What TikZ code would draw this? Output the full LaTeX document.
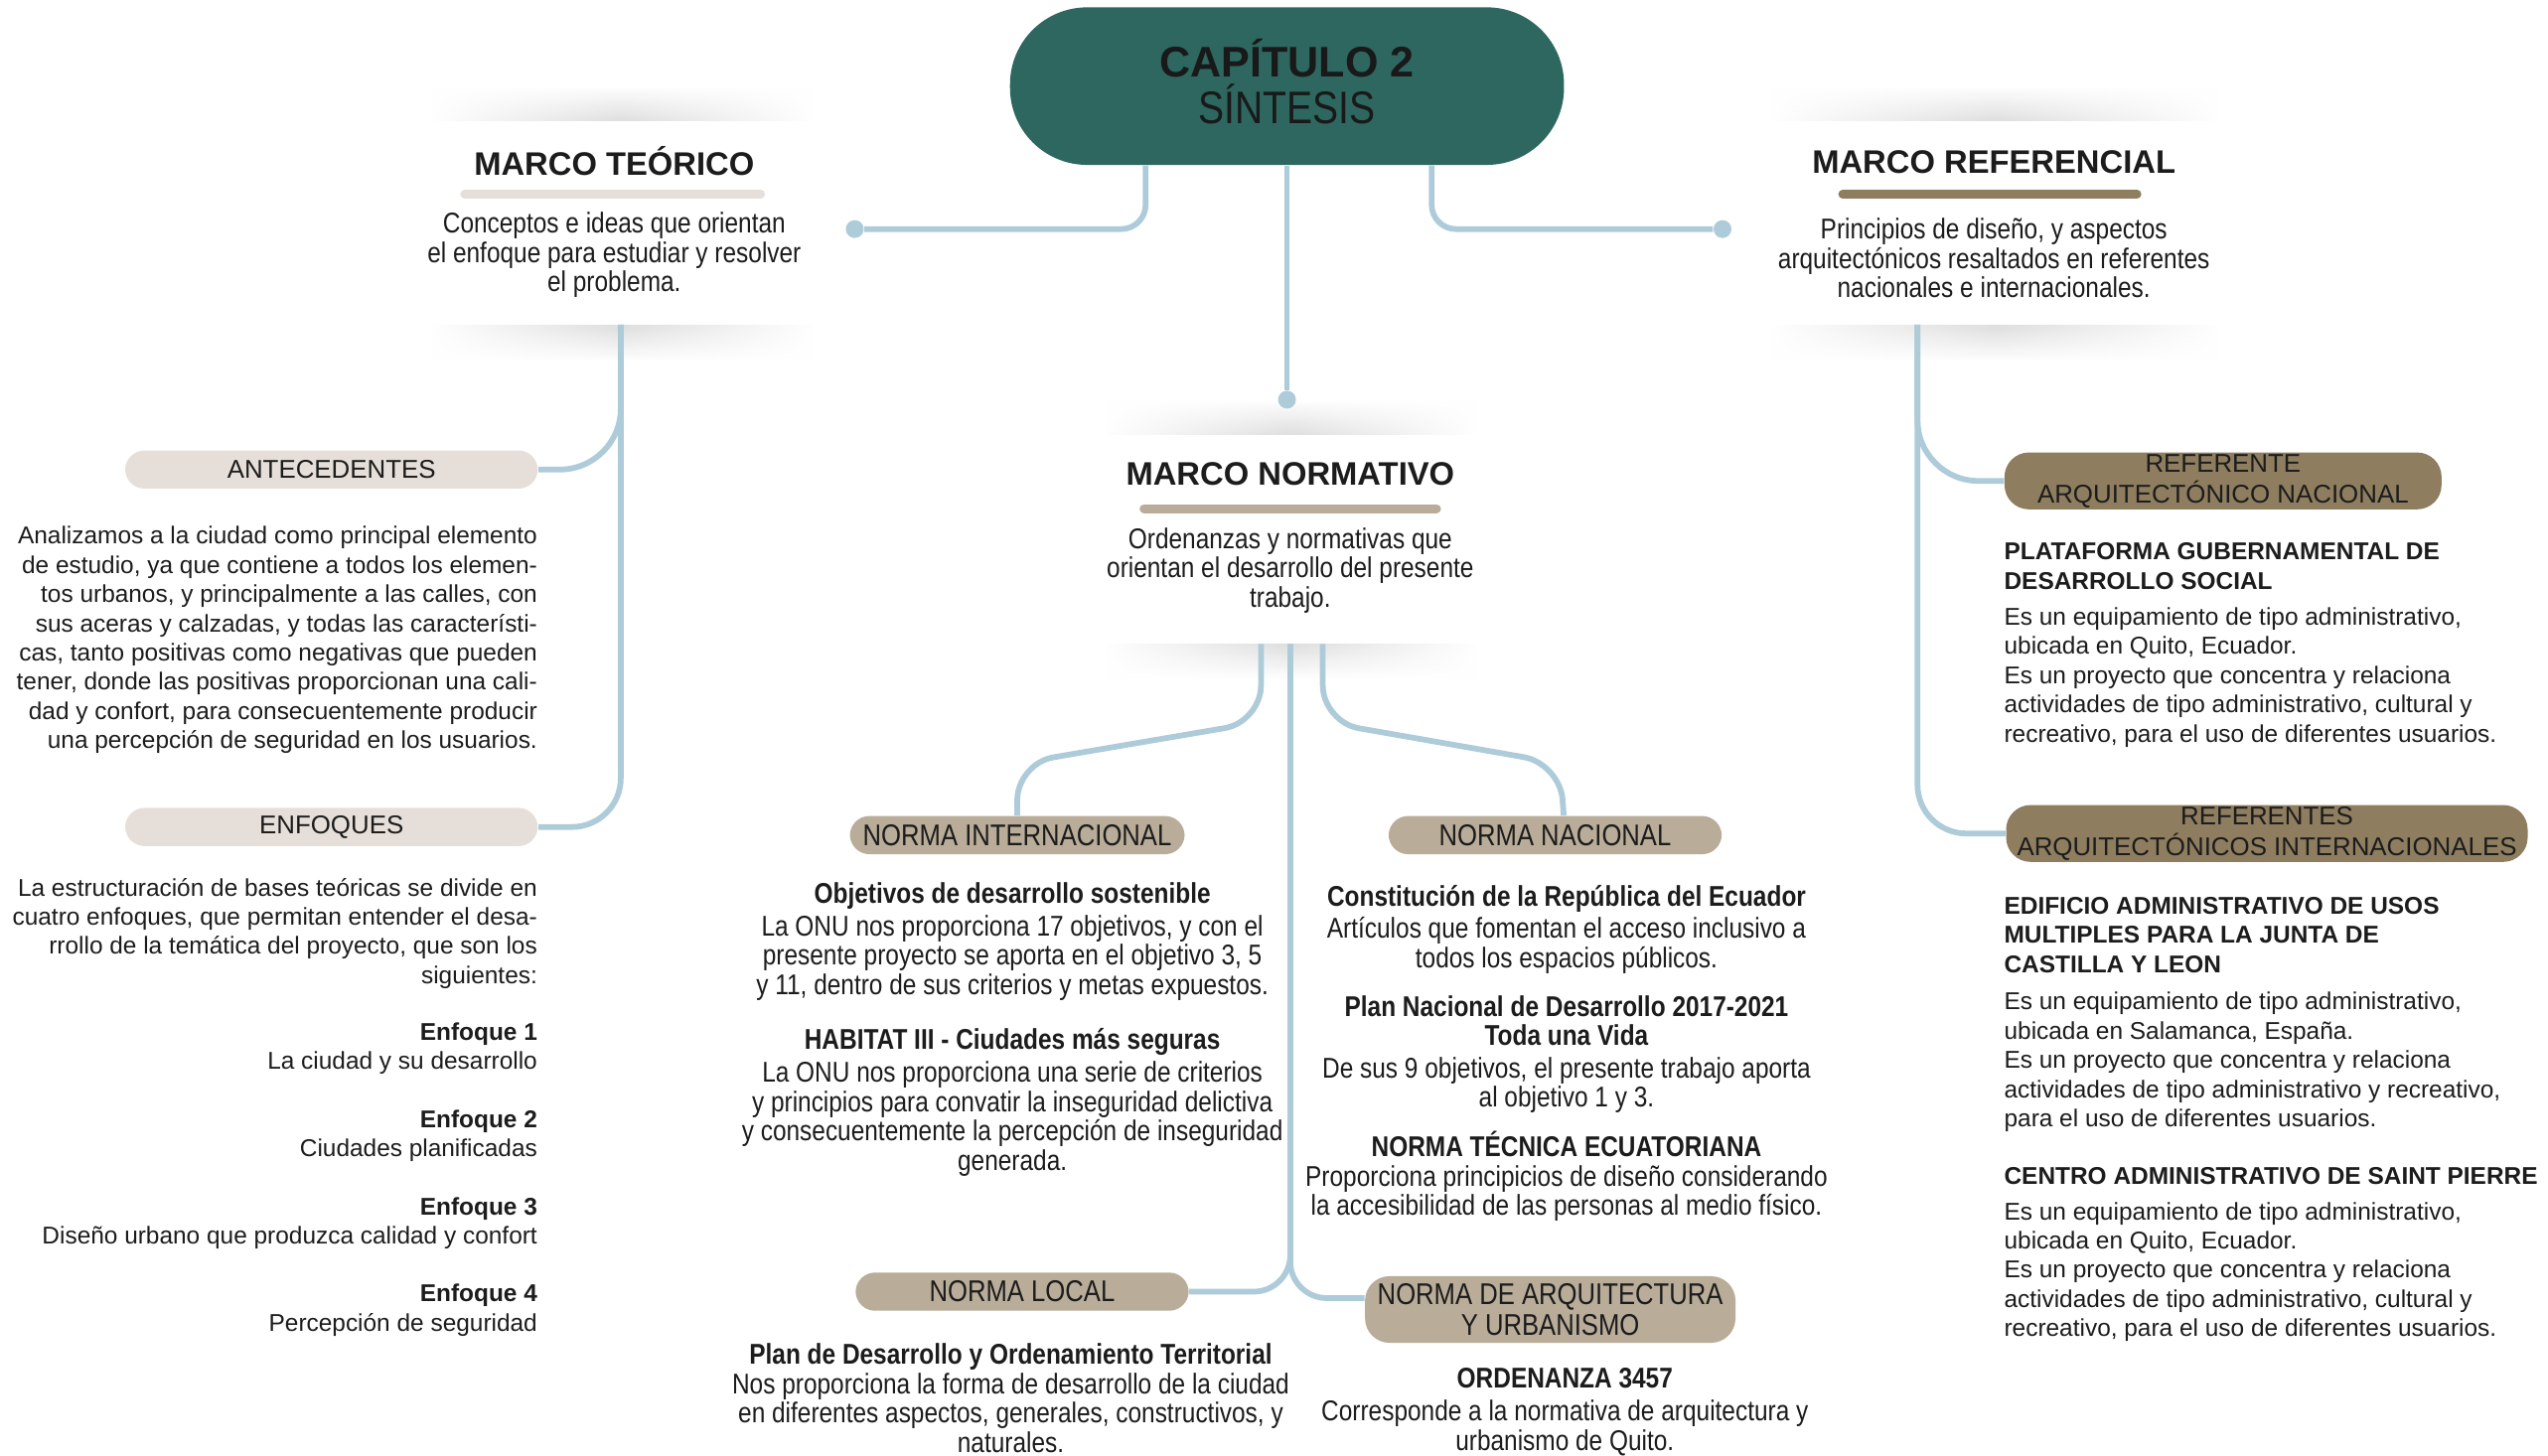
\documentclass[tikz,border=0pt]{standalone}
\usepackage{fontspec}
\setmainfont{Liberation Sans}
\newfontfamily\narrowfont[FakeStretch=0.85]{Liberation Sans}
\usepackage{xcolor}
\usetikzlibrary{
    shapes,
    positioning,
    fadings,
    calc
}
\definecolor{hubteal}{HTML}{2D675F}
\definecolor{linkblue}{HTML}{AECBDA}
\definecolor{sandlight}{HTML}{E6DFD9}
\definecolor{sandmid}{HTML}{B9AD99}
\definecolor{sanddark}{HTML}{8E7D5F}
\definecolor{inkgray}{HTML}{1C1C1C}
\tikzfading[name=sidefade, left color=transparent!100, right color=transparent!100, middle color=transparent!0]
\tikzset{%
    % Specifications for style of nodes:
    plain/.style = {inner sep=0pt, text=inkgray},
    hub/.style = {
        rectangle, rounded corners=0.95cm, fill=hubteal,
        minimum width=6.82cm, minimum height=1.94cm,
        text=black!90, align=center
    },
    card/.style = {rectangle, fill=white, inner sep=0pt},
    glow-up/.style = {top color=white, bottom color=black!13, path fading=sidefade},
    glow-down/.style = {top color=black!13, bottom color=white, path fading=sidefade},
    head-text/.style = {plain, font=\bfseries\fontsize{11.4}{13}\selectfont},
    desc-text/.style = {plain, align=center, font=\narrowfont\fontsize{10}{10.24}\selectfont},
    body-text/.style = {plain, font=\fontsize{8.5}{10.24}\selectfont},
    tag/.style = {
        plain, rectangle, rounded corners=0.24cm,
        minimum height=0.47cm, align=center,
        font=\fontsize{9}{10.8}\selectfont
    },
    tag-light/.style = {tag, fill=sandlight},
    tag-mid/.style = {tag, fill=sandmid, font=\narrowfont\fontsize{10.5}{10.8}\selectfont},
    tag-dark/.style = {tag, fill=sanddark, minimum height=0.7cm, rounded corners=0.3cm},
    link-dot/.style = {circle, fill=linkblue, inner sep=0pt, minimum size=0.22cm},
    link-line/.style = {draw=linkblue, line width=2pt, rounded corners=0.45cm},
    rule-bar/.style = {line width=0.11cm, line cap=round}
}

\begin{document}
\begin{tikzpicture}[x=0.02cm, y=-0.02cm]
    \useasboundingbox (0,0) rectangle (1568,896);
    \fill[white] (0,0) rectangle (1568,896);
    % soft shadows above and below the three cards
    \foreach \xa/\xb/\ya/\yb in {265/500/75/200, 1090/1365/75/200, 680/908/268/396} {
        \shade[glow-up] (\xa,\ya-22) rectangle (\xb,\ya);
        \shade[glow-down] (\xa,\yb) rectangle (\xb,\yb+22);
    }
    \node[card, minimum width=4.7cm, minimum height=2.5cm] (teo) at (382,137) {};
    \node[card, minimum width=5.5cm, minimum height=2.5cm] (refc) at (1227,137) {};
    \node[card, minimum width=4.56cm, minimum height=2.56cm] (nor) at (794,332) {};

    \node[hub, text depth=3.4pt, font=\bfseries\fontsize{15}{16.5}\selectfont] (hub) at (792,53)
        {CAPÍTULO 2\\{\mdseries\narrowfont\fontsize{16}{16.5}\selectfont SÍNTESIS}};

    \node[tag-light, minimum width=5.08cm] (ant) at (204,289) {ANTECEDENTES};
    \node[tag-light, minimum width=5.08cm] (enf) at (204,509) {ENFOQUES};
    \node[tag-dark, minimum width=5.38cm] (refn) at (1368,296) {REFERENTE\\ARQUITECTÓNICO NACIONAL};
    \node[tag-dark, minimum width=6.42cm] (refi) at (1395,513) {REFERENTES\\ARQUITECTÓNICOS INTERNACIONALES};
    \node[tag-mid, minimum width=4.12cm] (intl) at (626,514) {NORMA INTERNACIONAL};
    \node[tag-mid, minimum width=4.1cm] (nac) at (957,514) {NORMA NACIONAL};
    \node[tag-mid, minimum width=4.1cm] (loc) at (629,795) {NORMA LOCAL};
    \node[tag-mid, minimum width=4.56cm, minimum height=0.82cm, rounded corners=0.3cm] (arq) at (954,806)
        {NORMA DE ARQUITECTURA\\Y URBANISMO};

    \node[link-dot] (dotL) at (526,141) {};
    \node[link-dot] (dotR) at (1060,141) {};
    \node[link-dot] (dotN) at (792,246) {};

    \draw[link-line, rounded corners=0.3cm] ($(hub.south)+(-87,0)$) |- (dotL);
    \draw[link-line] (hub.south) -- (dotN);
    \draw[link-line, rounded corners=0.3cm] ($(hub.south)+(89,0)$) |- (dotR);
    \draw[link-line, rounded corners=0.75cm] (teo.south) |- (ant.east);
    \draw[link-line, rounded corners=0.6cm] (teo.south) |- (enf.east);
    \draw[link-line, rounded corners=0.75cm] ($(refc.south)+(-47,0)$) |- (refn.west);
    \draw[link-line, rounded corners=0.6cm] ($(refc.south)+(-47,0)$) |- (refi.west);
    \draw[link-line] ($(nor.south)+(-18,0)$) -- ++(0,48) -- ($(intl.north)+(0,-32)$) -- (intl.north);
    \draw[link-line] ($(nor.south)+(20,0)$) -- ++(0,48) -- ($(nac.north)+(3,-32)$) -- ([xshift=3]nac.north);
    \draw[link-line] (nor.south) |- (loc.east);
    \draw[link-line] (nor.south) |- ([yshift=4pt]arq.west);

    \node[head-text] (teo-t) at (378,99) {MARCO TEÓRICO};
    \draw[rule-bar, sandlight] (286,119.5) -- (468,119.5);
    \node[desc-text] (teo-d) at (378,157)
        {Conceptos e ideas que orientan\\el enfoque para estudiar y resolver\\el problema.};
    \node[head-text] (ref-t) at (1227,100) {MARCO REFERENCIAL};
    \draw[rule-bar, sanddark] (1134,119.5) -- (1315,119.5);
    \node[desc-text] (ref-d) at (1227,159)
        {Principios de diseño, y aspectos\\arquitectónicos resaltados en referentes\\nacionales e internacionales.};
    \node[head-text] (nor-t) at (794,292) {MARCO NORMATIVO};
    \draw[rule-bar, sandmid] (704,313) -- (884,313);
    \node[desc-text] (nor-d) at (794,351)
        {Ordenanzas y normativas que\\orientan el desarrollo del presente\\trabajo.};

    \node[body-text, anchor=east, align=right] (ant-d) at (331,394)
        {Analizamos a la ciudad como principal elemento\\de estudio, ya que contiene a todos los elemen-\\tos urbanos, y principalmente a las calles, con\\sus aceras y calzadas, y todas las característi-\\cas, tanto positivas como negativas que pueden\\tener, donde las positivas proporcionan una cali-\\dad y confort, para consecuentemente producir\\una percepción de seguridad en los usuarios.};
    \node[body-text, anchor=east, align=right] (enf-d) at (331,574.5)
        {La estructuración de bases teóricas se divide en\\cuatro enfoques, que permitan entender el desa-\\rrollo de la temática del proyecto, que son los\\siguientes:};
    \foreach \n/\txt/\y in {1/La ciudad y su desarrollo/645.5, 2/Ciudades planificadas/699,
        3/Diseño urbano que produzca calidad y confort/753, 4/Percepción de seguridad/806.5}
        \node[body-text, anchor=east, align=right] (enf-\n) at (331,\y) {\textbf{Enfoque \n}\\\txt};

    \node[desc-text] (intl-a) at (623,579.5)
        {\textbf{Objetivos de desarrollo sostenible}\\[1.2pt]La ONU nos proporciona 17 objetivos, y con el\\presente proyecto se aporta en el objetivo 3, 5\\y 11, dentro de sus criterios y metas expuestos.};
    \node[desc-text] (intl-b) at (623,678.5)
        {\textbf{HABITAT III - Ciudades más seguras}\\[1.2pt]La ONU nos proporciona una serie de criterios\\y principios para convatir la inseguridad delictiva\\y consecuentemente la percepción de inseguridad\\generada.};
    \node[desc-text] (nac-a) at (964,572)
        {\textbf{Constitución de la República del Ecuador}\\[1.2pt]Artículos que fomentan el acceso inclusivo a\\todos los espacios públicos.};
    \node[desc-text] (nac-b) at (964,649)
        {\textbf{Plan Nacional de Desarrollo 2017-2021}\\\textbf{Toda una Vida}\\[1.2pt]De sus 9 objetivos, el presente trabajo aporta\\al objetivo 1 y 3.};
    \node[desc-text] (nac-c) at (964,724)
        {\textbf{NORMA TÉCNICA ECUATORIANA}\\Proporciona principicios de diseño considerando\\la accesibilidad de las personas al medio físico.};
    \node[desc-text] (loc-a) at (622,860.5)
        {\textbf{Plan de Desarrollo y Ordenamiento Territorial}\\Nos proporciona la forma de desarrollo de la ciudad\\en diferentes aspectos, generales, constructivos, y\\naturales.};
    \node[desc-text] (arq-a) at (963,869)
        {\textbf{ORDENANZA 3457}\\[1.2pt]Corresponde a la normativa de arquitectura y\\urbanismo de Quito.};

    \node[body-text, anchor=west, align=left] (refn-d) at (1233,397)
        {\textbf{PLATAFORMA GUBERNAMENTAL DE}\\\textbf{DESARROLLO SOCIAL}\\[2.3pt]Es un equipamiento de tipo administrativo,\\ubicada en Quito, Ecuador.\\Es un proyecto que concentra y relaciona\\actividades de tipo administrativo, cultural y\\recreativo, para el uso de diferentes usuarios.};
    \node[body-text, anchor=west, align=left] (refi-a) at (1233,624.5)
        {\textbf{EDIFICIO ADMINISTRATIVO DE USOS}\\\textbf{MULTIPLES PARA LA JUNTA DE}\\\textbf{CASTILLA Y LEON}\\[2.8pt]Es un equipamiento de tipo administrativo,\\ubicada en Salamanca, España.\\Es un proyecto que concentra y relaciona\\actividades de tipo administrativo y recreativo,\\para el uso de diferentes usuarios.};
    \node[body-text, anchor=west, align=left] (refi-b) at (1233,772)
        {\textbf{CENTRO ADMINISTRATIVO DE SAINT PIERRE}\\[2.3pt]Es un equipamiento de tipo administrativo,\\ubicada en Quito, Ecuador.\\Es un proyecto que concentra y relaciona\\actividades de tipo administrativo, cultural y\\recreativo, para el uso de diferentes usuarios.};
\end{tikzpicture}
\end{document}
